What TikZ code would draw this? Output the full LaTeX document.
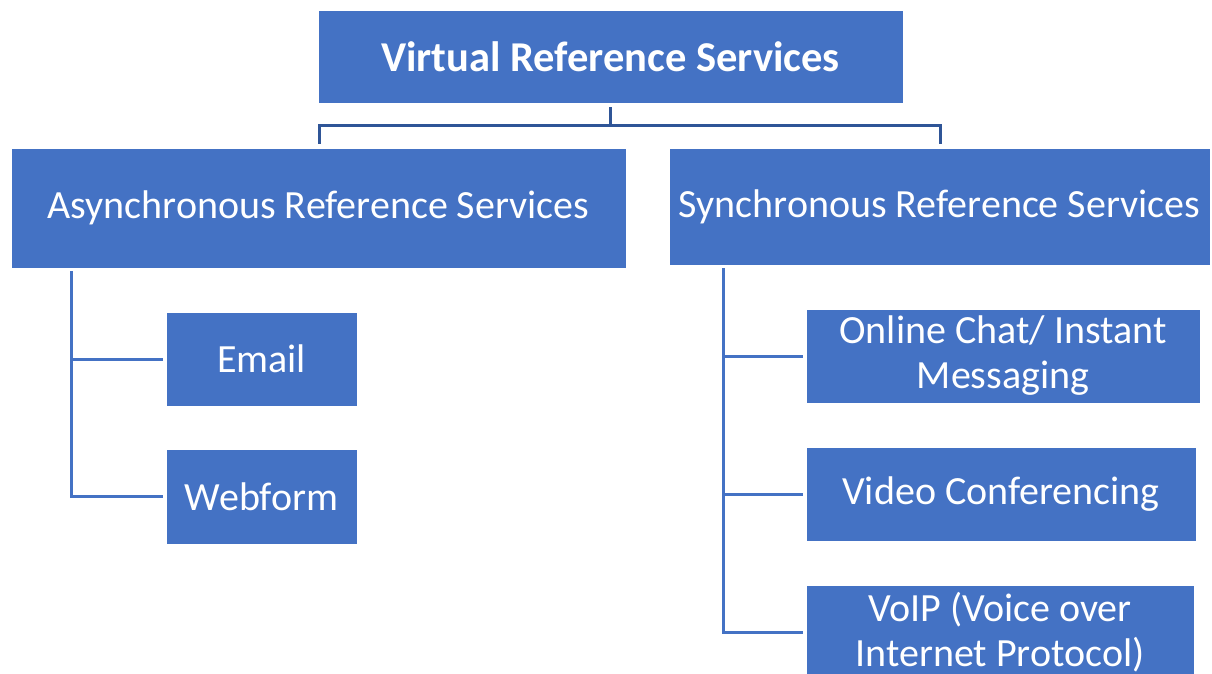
\documentclass[tikz,border=0pt]{standalone}
\usepackage{fontspec}
\setmainfont{Carlito}
\usetikzlibrary{calc}
\definecolor{boxblue}{HTML}{4472C4}
\definecolor{linkdark}{HTML}{2F5597}
\tikzset{
  box/.style={rectangle, fill=boxblue, draw=white, line width=0.6pt,
    text=white, align=center, inner sep=0pt,
    font=\fontsize{40}{45}\selectfont},
  branch/.style={draw=boxblue, line width=3pt},
  toplink/.style={draw=linkdark, line width=3pt},
}
\begin{document}
\begin{tikzpicture}[x=1pt,y=-1pt]
\useasboundingbox (0,0) rectangle (1212,673);

\node[box, minimum width=585, minimum height=93, font=\fontsize{42.5}{48}\selectfont\bfseries]
  (top) at (610.5,56.5) {Virtual Reference Services};
\node[box, minimum width=615, minimum height=120] (async) at (318.5,208) {Asynchronous Reference Services};
\node[box, minimum width=541, minimum height=117] (sync) at (939.5,206.5) {Synchronous Reference Services};

\node[box, minimum width=191, minimum height=94] (email) at (261.5,359) {Email};
\node[box, minimum width=191, minimum height=95] (webform) at (261.5,496.5) {Webform};

\node[box, minimum width=394, minimum height=94] (chat) at (1003,356) {Online Chat/ Instant\\Messaging};
\node[box, minimum width=390, minimum height=94] (video) at (1001,494) {Video Conferencing};
\node[box, minimum width=388, minimum height=94] (voip) at (1000,632) {VoIP (Voice over\\Internet Protocol)};

% top-level split
\coordinate (stem) at ($(top.south)+(0,4)$);
\coordinate (split) at ($(stem)+(0,18)$);
\draw[toplink] (stem) -- (split);
\draw[toplink, line cap=rect] ($(async.north)+(0.5,-5)$) |- (split) -| ($(sync.north)+(0.5,-5)$);

% asynchronous branch
\coordinate (aroot) at (71,271);
\draw[branch] (aroot) |- ($(email.west)+(-3,0)$);
\draw[branch] (aroot) |- ($(webform.west)+(-3,0)$);

% synchronous branch
\coordinate (sroot) at (723,268);
\draw[branch] (sroot) |- ($(chat.west)+(-3,0)$);
\draw[branch] (sroot) |- ($(video.west)+(-3,0)$);
\draw[branch] (sroot) |- ($(voip.west)+(-3,0)$);
\end{tikzpicture}
\end{document}
